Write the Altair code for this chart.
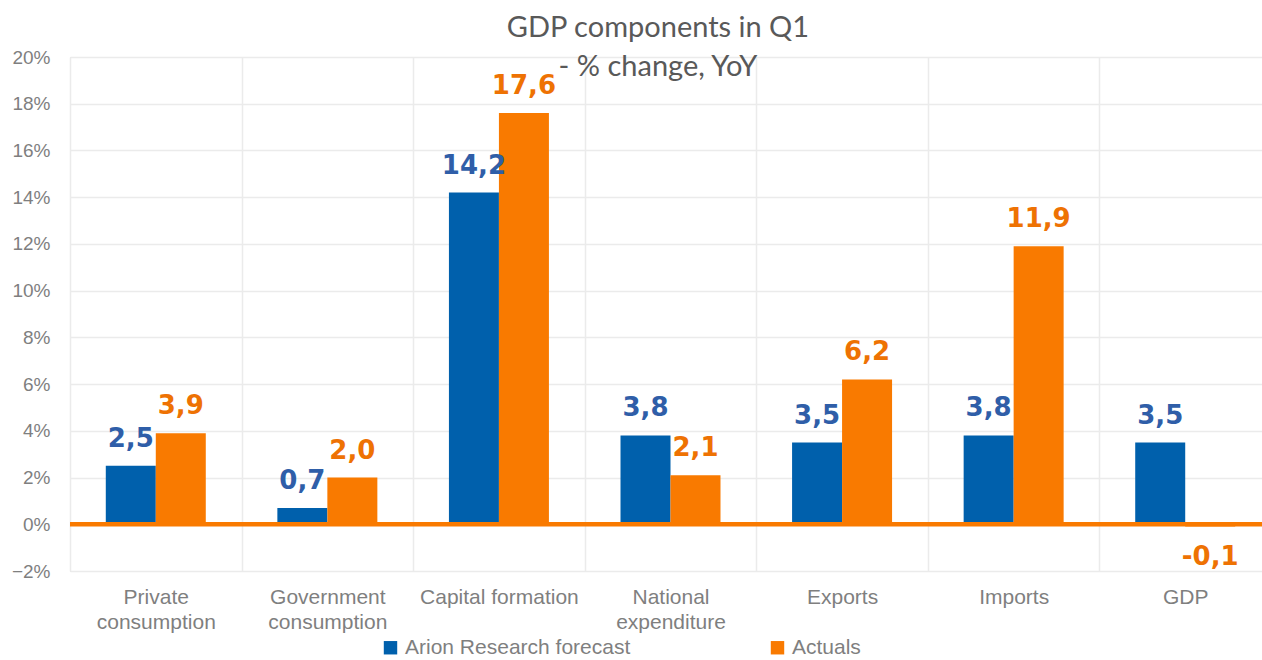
import altair as alt
import pandas as pd

categories = ["Private consumption", "Government consumption", "Capital formation",
              "National expenditure", "Exports", "Imports", "GDP"]
series = ["Arion Research forecast", "Actuals"]
forecast = [2.5, 0.7, 14.2, 3.8, 3.5, 3.8, 3.5]
actuals = [3.9, 2.0, 17.6, 2.1, 6.2, 11.9, -0.1]

rows = []
for c, f, a in zip(categories, forecast, actuals):
    rows.append({"cat": c, "series": series[0], "value": f / 100,
                 "label": f"{f:.1f}".replace(".", ",")})
    rows.append({"cat": c, "series": series[1], "value": a / 100,
                 "label": f"{a:.1f}".replace(".", ",")})
df = pd.DataFrame(rows)

BAR_BLUE = "#0060AC"
BAR_ORANGE = "#F97A00"
LBL_BLUE = "#2F5EA8"
LBL_ORANGE = "#EE7203"
GRID = "#EBEBEB"
TXT = "#7F7F7F"
SANS = "Liberation Sans, Arial, sans-serif"

W = 1192
H = 514

xscale = alt.Scale(domain=categories, range=[0, 1201], paddingInner=0, paddingOuter=0)
offscale = alt.Scale(domain=series, paddingInner=0, paddingOuter=0.716)
yscale = alt.Scale(domain=[-0.02, 0.20], nice=False)

x_enc = alt.X("cat:N", scale=xscale, sort=categories,
              axis=alt.Axis(title=None, tickBand="extent", grid=True, gridColor=GRID,
                            gridWidth=1.5, domain=False, ticks=False, labelAngle=0,
                            labelFont=SANS, labelFontSize=21, labelColor=TXT,
                            labelPadding=15, labelLineHeight=25, labelBaseline="top",
                            labelLimit=400,
                            labelExpr="datum.label == 'Capital formation' ? datum.label : split(datum.label, ' ')"))
y_enc = alt.Y("value:Q", scale=yscale,
              axis=alt.Axis(title=None, format=".0%", values=[i / 100 for i in range(-2, 21, 2)],
                            grid=True, gridColor=GRID, gridWidth=1.5, domain=False, ticks=False,
                            labelFont=SANS, labelFontSize=19, labelColor=TXT,
                            labelPadding=20))

base = alt.Chart(df)

bars = base.mark_bar(size=50).encode(
    x=x_enc,
    xOffset=alt.XOffset("series:N", scale=offscale, sort=series),
    y=y_enc,
    y2=alt.datum(0),
    color=alt.Color("series:N", sort=series,
                    scale=alt.Scale(domain=series, range=[BAR_BLUE, BAR_ORANGE]),
                    legend=alt.Legend(title=None, orient="none", direction="horizontal",
                                      legendX=310, legendY=580, symbolType="square",
                                      symbolSize=180, symbolStrokeWidth=0, padding=0,
                                      labelFont=SANS, labelFontSize=21, labelLimit=500,
                                      labelColor=TXT, columnPadding=136, labelOffset=4)),
)

zero = alt.Chart(pd.DataFrame({"z": [0]})).mark_rule(color=BAR_ORANGE, strokeWidth=4.5).encode(
    y=alt.Y("z:Q", scale=yscale), x=alt.value(0), x2=alt.value(1201))

label_color = alt.Color("series:N", sort=series,
                        scale=alt.Scale(domain=series, range=[LBL_BLUE, LBL_ORANGE]), legend=None)

pos_labels = base.transform_filter("datum.value >= 0").mark_text(
    font="DejaVu Sans", fontWeight="bold", fontSize=26, baseline="alphabetic", dy=-19
).encode(
    x=alt.X("cat:N", scale=xscale, sort=categories),
    xOffset=alt.XOffset("series:N", scale=offscale, sort=series),
    y=alt.Y("value:Q", scale=yscale),
    text="label:N",
    color=label_color,
)

neg_labels = base.transform_filter("datum.value < 0").mark_text(
    font="DejaVu Sans", fontWeight="bold", fontSize=26, baseline="top", dy=17
).encode(
    x=alt.X("cat:N", scale=xscale, sort=categories),
    xOffset=alt.XOffset("series:N", scale=offscale, sort=series),
    y=alt.Y("value:Q", scale=yscale),
    text="label:N",
    color=label_color,
)

chart = alt.layer(bars, zero, pos_labels, neg_labels).resolve_scale(color="independent").properties(
    width=W, height=H,
    title=alt.Title(text=["GDP components in Q1", "- % change, YoY"], font="Lato",
                    fontSize=29, fontWeight="normal", color="#595959", lineHeight=39,
                    anchor="middle", frame="group", dx=-8, offset=-34, baseline="top"),
    autosize=alt.AutoSizeParams(type="none"),
    padding={"left": 70, "top": 57, "right": 0, "bottom": 89},
).configure_view(stroke=None).configure(background="white")

chart.save("out.html", embed_options={"renderer": "svg", "actions": False})
